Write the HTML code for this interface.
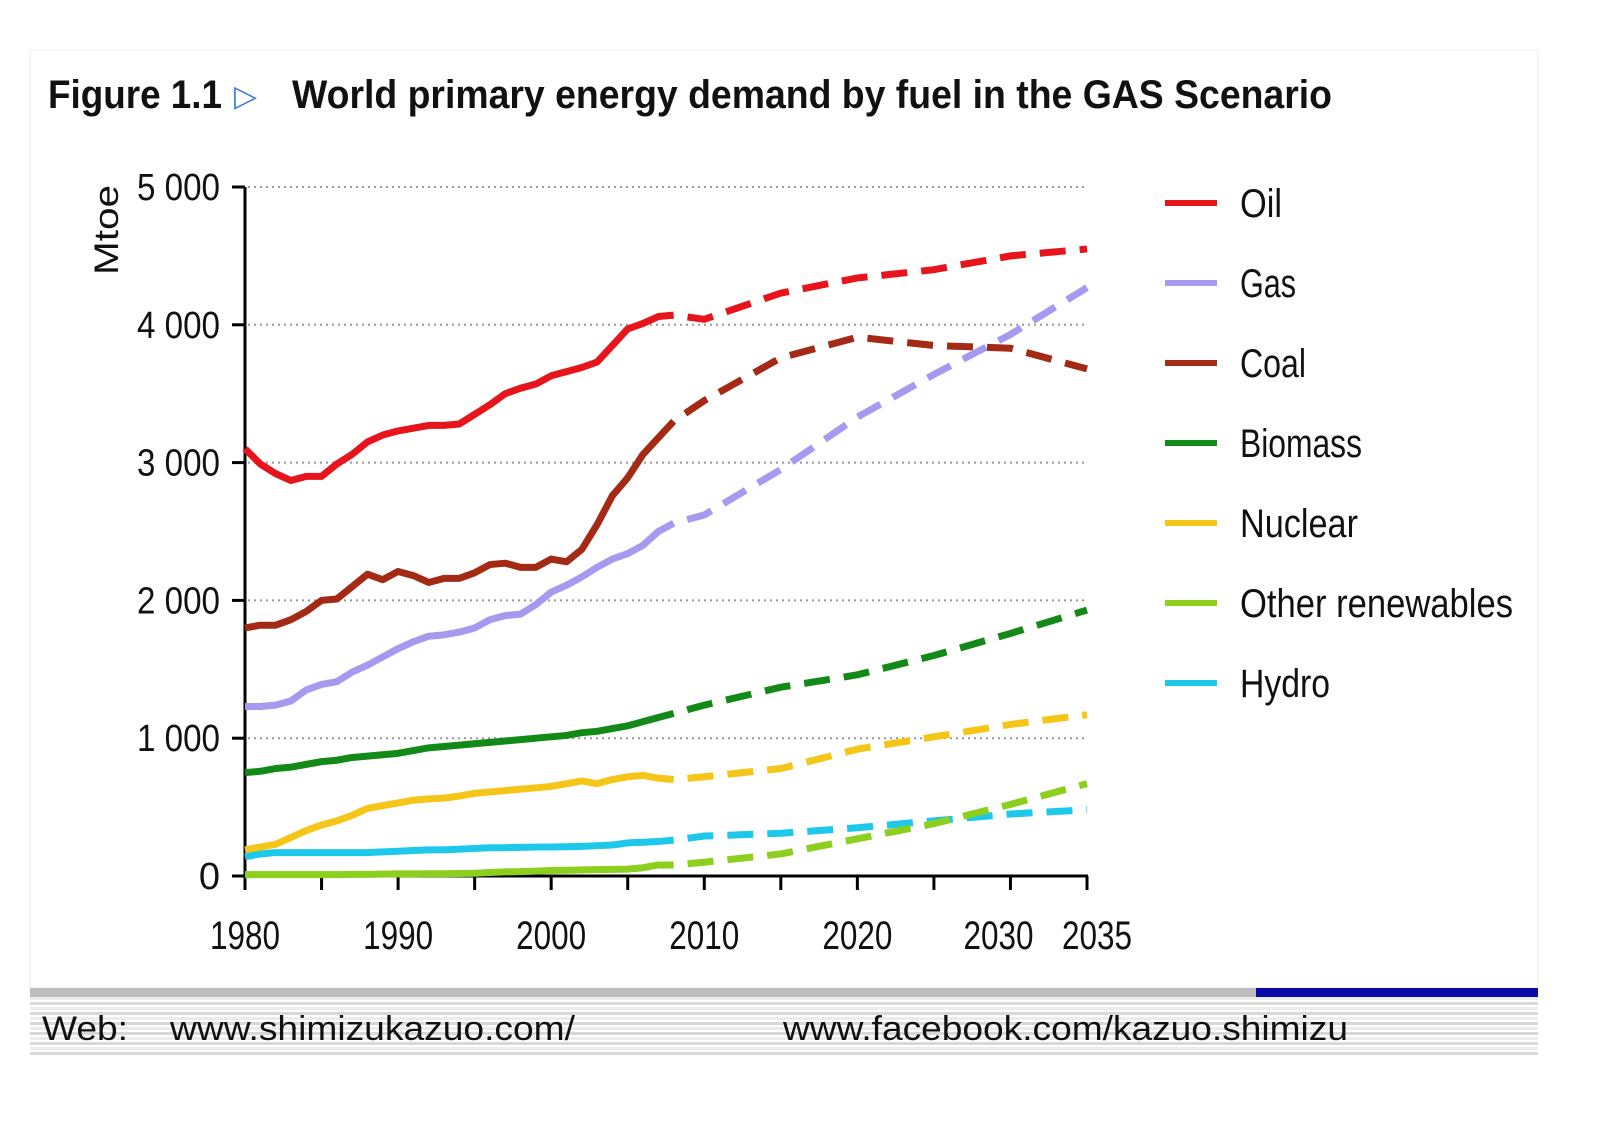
<!DOCTYPE html>
<html><head><meta charset="utf-8"><style>
body{margin:0;background:#fff;width:1600px;height:1130px;overflow:hidden;font-family:"Liberation Sans Narrow","Liberation Sans",sans-serif;}
svg{position:absolute;left:0;top:0}
</style></head><body>
<svg width="1600" height="1130">
<rect x="30" y="50" width="1508" height="938" fill="#fff" stroke="#eee"/>
<text x="48" y="108" font-size="40" font-weight="bold" fill="#111" textLength="174" lengthAdjust="spacingAndGlyphs">Figure 1.1</text>
<text x="234" y="106" font-size="30" fill="#3a7bd5">▷</text>
<text x="292" y="108" font-size="40" font-weight="bold" fill="#111" textLength="1040" lengthAdjust="spacingAndGlyphs">World primary energy demand by fuel in the GAS Scenario</text>
<text transform="translate(118,275) rotate(-90)" font-size="34" fill="#111" textLength="90" lengthAdjust="spacingAndGlyphs">Mtoe</text>
<g id="grid"></g><g id="axes"></g><g id="series"></g><g id="legend"></g>
<rect x="30" y="988" width="1508" height="9" fill="#bdbdbd"/>
<rect x="1256" y="988" width="282" height="9" fill="#0a0aa8"/>
<g id="stripes"></g>
<text x="42" y="1040" font-size="34" fill="#111" textLength="86" lengthAdjust="spacingAndGlyphs">Web:</text>
<text x="170" y="1040" font-size="34" fill="#111" textLength="405" lengthAdjust="spacingAndGlyphs">www.shimizukazuo.com/</text>
<text x="783" y="1040" font-size="34" fill="#111" textLength="565" lengthAdjust="spacingAndGlyphs">www.facebook.com/kazuo.shimizu</text>
</svg>
<script>
const yTicks=[0,1000,2000,3000,4000,5000];
const yTickLabels=["0","1 000","2 000","3 000","4 000","5 000"];
const xTicks=[1980,1985,1990,1995,2000,2005,2010,2015,2020,2025,2030,2035];
const xTickLabels=["1980","1990","2000","2010","2020","2030","2035"];
const xLabelYears=[1980,1990,2000,2010,2020,2030,2035];
const names=["Oil","Gas","Coal","Biomass","Nuclear","Other renewables","Hydro"];
const colors=["#e8141c","#a59af0","#a52a16","#138a17","#f5c518","#8ccf1e","#1ec8ea"];
const legendWidths=[42,56,66,122,118,273,90];
const histYears=[1980,1981,1982,1983,1984,1985,1986,1987,1988,1989,1990,1991,1992,1993,1994,1995,1996,1997,1998,1999,2000,2001,2002,2003,2004,2005,2006,2007,2008];
const oilHist=[3100,2990,2920,2870,2900,2900,2990,3060,3150,3200,3230,3250,3270,3270,3280,3350,3420,3500,3540,3570,3630,3660,3690,3730,3850,3970,4010,4060,4070];
const gasHist=[1230,1230,1240,1270,1350,1390,1410,1480,1530,1590,1650,1700,1740,1750,1770,1800,1860,1890,1900,1970,2060,2110,2170,2240,2300,2340,2400,2500,2560];
const coalHist=[1800,1820,1820,1860,1920,2000,2010,2100,2190,2150,2210,2180,2130,2160,2160,2200,2260,2270,2240,2240,2300,2280,2370,2550,2760,2890,3060,3180,3300];
const bioHist=[750,760,780,790,810,830,840,860,870,880,890,910,930,940,950,960,970,980,990,1000,1010,1020,1040,1050,1070,1090,1120,1150,1180];
const nucHist=[190,210,230,280,330,370,400,440,490,510,530,550,560,565,580,600,610,620,630,640,650,670,690,670,700,720,730,710,700];
const othHist=[10,10,10,10,10,10,10,12,12,14,15,15,16,16,18,20,25,30,32,35,40,42,44,46,48,50,60,80,80];
const hydHist=[140,160,170,170,170,170,170,170,170,175,180,185,190,190,195,200,205,205,208,210,210,212,215,220,225,240,245,250,260];
const projYears=[2008,2010,2015,2020,2025,2030,2035];
const oilProj=[4070,4040,4230,4340,4400,4500,4550];
const gasProj=[2560,2620,2950,3330,3640,3930,4270];
const coalProj=[3300,3450,3760,3910,3850,3830,3680];
const bioProj=[1180,1240,1370,1460,1600,1760,1930];
const nucProj=[700,720,780,920,1010,1100,1170];
const othProj=[80,100,160,270,380,520,670];
const hydProj=[260,290,310,350,400,450,480];
const hist=[oilHist,gasHist,coalHist,bioHist,nucHist,othHist,hydHist];
const proj=[oilProj,gasProj,coalProj,bioProj,nucProj,othProj,hydProj];
const NS="http://www.w3.org/2000/svg";
const X=y=>245+(y-1980)*(842/55);
const Y=v=>876-v*0.1378;
function mk(t,a,p){const e=document.createElementNS(NS,t);for(const k in a)e.setAttribute(k,a[k]);p.appendChild(e);return e;}
const grid=document.getElementById('grid'),axes=document.getElementById('axes'),ser=document.getElementById('series'),leg=document.getElementById('legend');
yTicks.forEach((v,i)=>{
 if(v>0){const g=mk('line',{x1:248,x2:1087,y1:Y(v),y2:Y(v),stroke:'#999','stroke-width':2,'stroke-dasharray':'2 4'},grid);
 
 }
 const t=mk('line',{x1:232,x2:245,y1:Y(v),y2:Y(v),stroke:'#000','stroke-width':3},axes);
 
 
 const a={x:220,y:Y(v)+13,'font-size':38,'text-anchor':'end',fill:'#111'};
 if(v>0){a.textLength=83;a.lengthAdjust='spacingAndGlyphs';}
 const l=mk('text',a,axes);l.textContent=yTickLabels[i];
 
 
});
const ya=mk('line',{x1:245,x2:245,y1:Y(5000),y2:Y(0)+2,stroke:'#000','stroke-width':3},axes);


const xa=mk('line',{x1:243,x2:1088,y1:Y(0),y2:Y(0),stroke:'#000','stroke-width':3},axes);


xTicks.forEach(y=>{const t=mk('line',{x1:X(y),x2:X(y),y1:Y(0),y2:Y(0)+14,stroke:'#000','stroke-width':3},axes);
 
 });
xLabelYears.forEach((y,i)=>{const l=mk('text',{x:X(y)+(y==2030?-12:y==2035?10:0)-35,y:949,'font-size':40,fill:'#111',textLength:70,lengthAdjust:'spacingAndGlyphs'},axes);l.textContent=xTickLabels[i];
 
 });
const order=[6,5,4,3,1,2,0];
order.forEach(i=>{
 const slug=names[i].toLowerCase().replace(/ /g,'-');
 const h=mk('polyline',{points:histYears.map((y,j)=>X(y)+','+Y(hist[i][j])).join(' '),fill:'none',stroke:colors[i],'stroke-width':7,'stroke-linejoin':'round'},ser);
 
 
 const p=mk('polyline',{points:projYears.map((y,j)=>X(y)+','+Y(proj[i][j])).join(' '),fill:'none',stroke:colors[i],'stroke-width':7,'stroke-dasharray':'26 14','stroke-dashoffset':'-14'},ser);
 
 
});
names.forEach((n,i)=>{const y=203+i*80;
 const ln=mk('line',{x1:1165,x2:1217,y1:y,y2:y,stroke:colors[i],'stroke-width':6},leg);
 
 
 const t=mk('text',{x:1240,y:y+14,'font-size':40,fill:'#111',textLength:legendWidths[i],lengthAdjust:'spacingAndGlyphs'},leg);t.textContent=n;
 
 });
const st=document.getElementById('stripes');
for(let y=997;y<1056;y+=5){const r=mk('rect',{x:30,y:y,width:1508,height:3,fill:(y%10<5)?'#d8d8d8':'#ececec'},st);
 
 }
</script>
</body></html>
